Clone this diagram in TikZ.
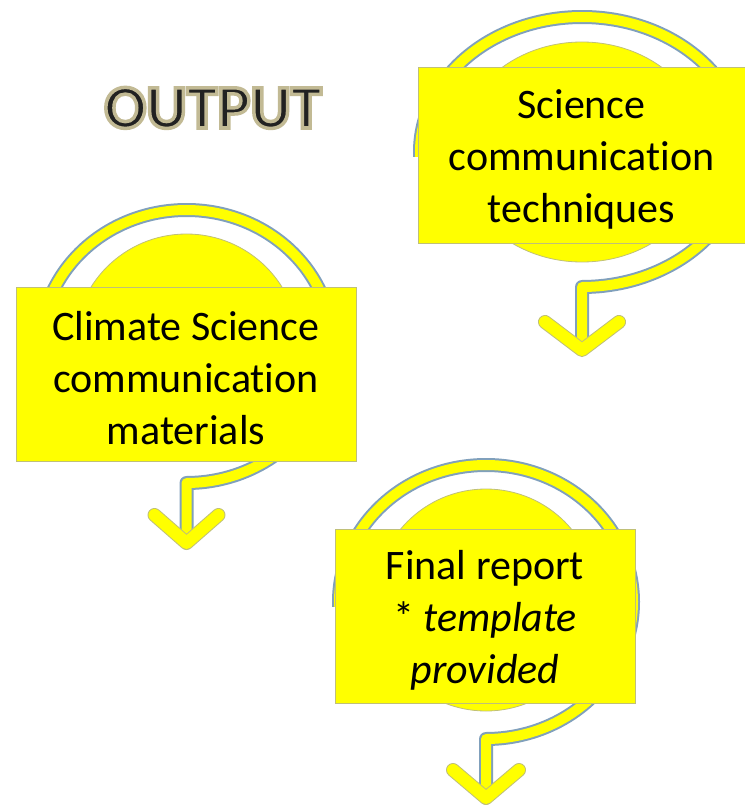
\documentclass[tikz,border=0pt]{standalone}
\usepackage{fontspec}
\setmainfont{Carlito}[Ligatures=NoCommon]
\usetikzlibrary{calc}
\definecolor{ringblue}{RGB}{128,160,188}
\definecolor{boxedge}{RGB}{192,192,120}
\definecolor{titlefill}{RGB}{34,34,34}
\definecolor{brightyellow}{RGB}{255,255,0}
\newcommand\strokedtext[3]{\special{pdf:literal direct 2 Tr #1 w #2 RG}#3\special{pdf:literal direct 0 Tr}}
\begin{document}
\begin{tikzpicture}[x=1pt,y=-1pt,
  ringedge/.style={draw=ringblue, line width=14, line join=round},
  ringcore/.style={draw=brightyellow, line width=10, line join=round},
  headedge/.style={draw=boxedge, line width=14, line cap=round, line join=round},
  headcore/.style={draw=brightyellow, line width=12, line cap=round, line join=round},
  disk/.style={fill=brightyellow, draw=boxedge, line width=0.8},
  panel/.style={rectangle, fill=brightyellow, draw=boxedge, line width=0.8, inner sep=0pt},
  panellabel/.style={align=center, font=\fontsize{42}{52}\selectfont, text=black, inner sep=0pt},
  titletext/.style={anchor=base, font=\fontsize{62}{74}\selectfont\bfseries, inner sep=0pt}]
\useasboundingbox (0,0) rectangle (744,805);
\fill[white] (0,0) rectangle (744,805);

% ---------- title ----------
\node[titletext, text=titlefill] (title) at (213,128) {\strokedtext{3.5}{0.76 0.73 0.58}{OUTPUT}};

% ---------- group 1: Science communication techniques ----------
\coordinate (c1) at (582,152);
\coordinate (tip1) at (582,350);
\foreach \s in {ringedge,ringcore}
  \draw[\s] ($(c1)+(178:162 and 135)$) arc[start angle=178, end angle=450, x radius=162, y radius=135] -- (tip1);
\draw[disk] (c1) ellipse[x radius=125, y radius=110];
\node[panel, minimum width=327, minimum height=176] (box1) at (581.5,155) {};
\node[panellabel] (text1) at ($(box1.center)+(0,4)$) {Science\\communication\\techniques};
\draw[headedge] ($(tip1)+(-37,-28)$) -- (tip1) -- ($(tip1)+(37,-28)$);
\draw[headcore] ($(tip1)+(-37,-28)$) -- (tip1) -- ($(tip1)+(37,-28)$);

% ---------- group 2: Climate Science communication materials ----------
\coordinate (c2) at (186.5,346.5);
\coordinate (tip2) at (186.5,543);
\foreach \s in {ringedge,ringcore}
  \draw[\s] ($(c2)+(178:146 and 136.5)$) arc[start angle=178, end angle=450, x radius=146, y radius=136.5] -- (tip2);
\draw[disk] (c2) circle[radius=112.5];
\node[panel, minimum width=340, minimum height=174] (box2) at (186,374) {};
\node[panellabel] (text2) at ($(box2.center)+(0,4)$) {Climate Science\\communication\\materials};
\draw[headedge] ($(tip2)+(-32,-28)$) -- (tip2) -- ($(tip2)+(32,-28)$);
\draw[headcore] ($(tip2)+(-32,-28)$) -- (tip2) -- ($(tip2)+(32,-28)$);

% ---------- group 3: Final report ----------
\coordinate (c3) at (486,602);
\coordinate (tip3) at (486,798);
\foreach \s in {ringedge,ringcore}
  \draw[\s] ($(c3)+(178:147 and 137)$) arc[start angle=178, end angle=450, x radius=147, y radius=137] -- (tip3);
\draw[disk] (486,600) circle[radius=111];
\node[panel, minimum width=300, minimum height=174] (box3) at (485,616) {};
\node[panellabel] (text3) at ($(box3.center)+(0,4)$) {Final report\\* \textit{template}\\\textit{provided}};
\draw[headedge] ($(tip3)+(-33,-28)$) -- (tip3) -- ($(tip3)+(33,-28)$);
\draw[headcore] ($(tip3)+(-33,-28)$) -- (tip3) -- ($(tip3)+(33,-28)$);
\end{tikzpicture}
\end{document}
